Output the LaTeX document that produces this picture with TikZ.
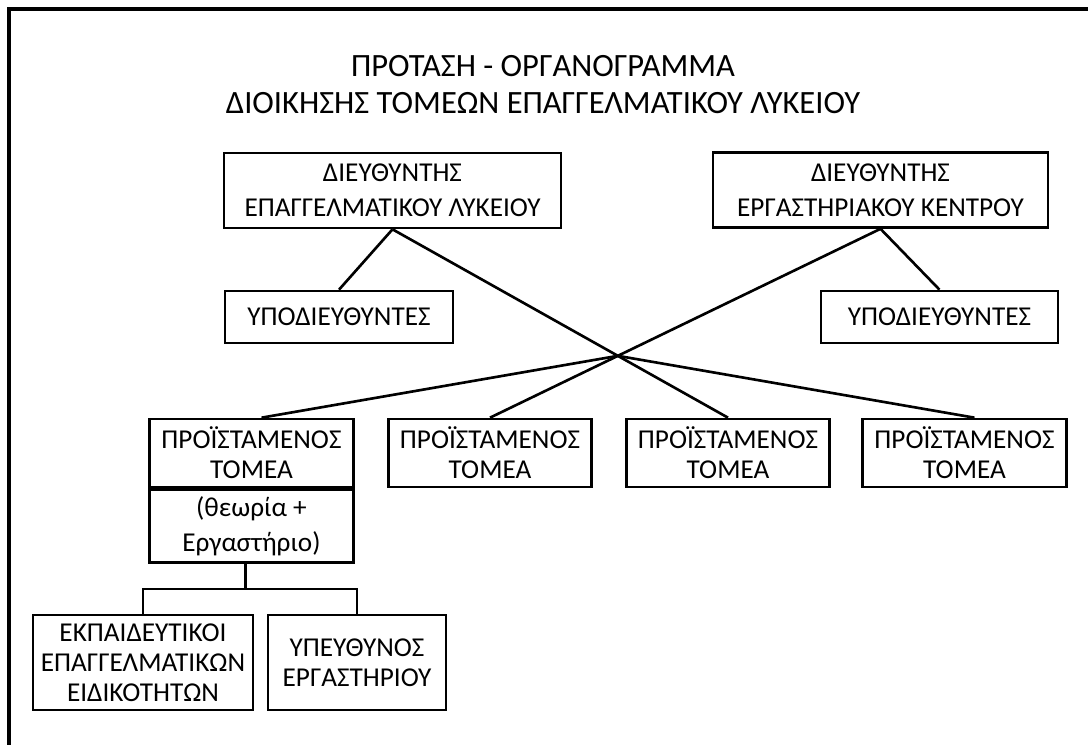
\documentclass[tikz,border=0pt]{standalone}
\usepackage{fontspec}
\setmainfont{Carlito}
\usetikzlibrary{positioning}

\begin{document}
\begin{tikzpicture}[box/.style={draw,line width=1.5pt,align=center,inner sep=0pt,font=\fontsize{15.5}{17}\selectfont},
		wide/.style={box,font=\fontsize{15.5}{20}\selectfont},
		link/.style={line width=1.5pt}]
		\useasboundingbox (0,0) rectangle (21.76,14.88);
		\clip (0,0) rectangle (21.76,14.88);
		\draw[line width=2.2pt] (0.18,-1) rectangle (23,14.70);

		\node[align=center,font=\fontsize{18.5}{21.5}\selectfont] (title) at (10.86,13.19) {ΠΡΟΤΑΣΗ - ΟΡΓΑΝΟΓΡΑΜΜΑ\\ΔΙΟΙΚΗΣΗΣ ΤΟΜΕΩΝ ΕΠΑΓΓΕΛΜΑΤΙΚΟΥ ΛΥΚΕΙΟΥ};

		\node[wide,minimum width=6.74cm,minimum height=1.5cm] (D1) at (7.85,11.07) {ΔΙΕΥΘΥΝΤΗΣ\\ΕΠΑΓΓΕΛΜΑΤΙΚΟΥ ΛΥΚΕΙΟΥ};
		\node[wide,minimum width=6.7cm,minimum height=1.5cm] (D2) at (17.61,11.08) {ΔΙΕΥΘΥΝΤΗΣ\\ΕΡΓΑΣΤΗΡΙΑΚΟΥ ΚΕΝΤΡΟΥ};
		\node[box,minimum width=4.56cm,minimum height=1.04cm] (Y1) at (6.78,8.54) {ΥΠΟΔΙΕΥΘΥΝΤΕΣ};
		\node[box,minimum width=4.74cm,minimum height=1.04cm] (Y2) at (18.79,8.54) {ΥΠΟΔΙΕΥΘΥΝΤΕΣ};

		\foreach \n/\x in {1/5.03,2/9.80,3/14.56,4/19.29}
			\node[box,minimum width=4.07cm,minimum height=1.36cm] (T\n) at (\x,5.82) {ΠΡΟΪΣΤΑΜΕΝΟΣ\\ΤΟΜΕΑ};
		\node[wide,minimum width=4.07cm,minimum height=1.46cm,anchor=north] (T1b) at (T1.south) {(θεωρία +\\Εργαστήριο)};

		\node[box,minimum width=4.4cm,minimum height=1.9cm] (E1) at (2.86,1.63) {ΕΚΠΑΙΔΕΥΤΙΚΟΙ\\ΕΠΑΓΓΕΛΜΑΤΙΚΩΝ\\ΕΙΔΙΚΟΤΗΤΩΝ};
		\node[box,minimum width=3.56cm,minimum height=1.9cm] (E2) at (7.14,1.63) {ΥΠΕΥΘΥΝΟΣ\\ΕΡΓΑΣΤΗΡΙΟΥ};

		% crossing of the two long lines
		\coordinate (X) at (intersection of D1.south--T3.north and D2.south--T2.north);

		\path[link] (D1.south) edge (Y1.north);
		\path[link] (D2.south) edge (Y2.north);
		\path[link] (D1.south) edge (T3.north);
		\path[link] (D2.south) edge (T2.north);
		\path[link] (X) edge ([xshift=2mm]T1.north);
		\path[link] (X) edge ([xshift=2mm]T4.north);

		\draw[link] ([xshift=-1.2mm]T1b.south) -- ++(0,-0.5) coordinate (br);
		\draw[link] (E1.north) |- (br) -| (E2.north);
	\end{tikzpicture}
\end{document}
